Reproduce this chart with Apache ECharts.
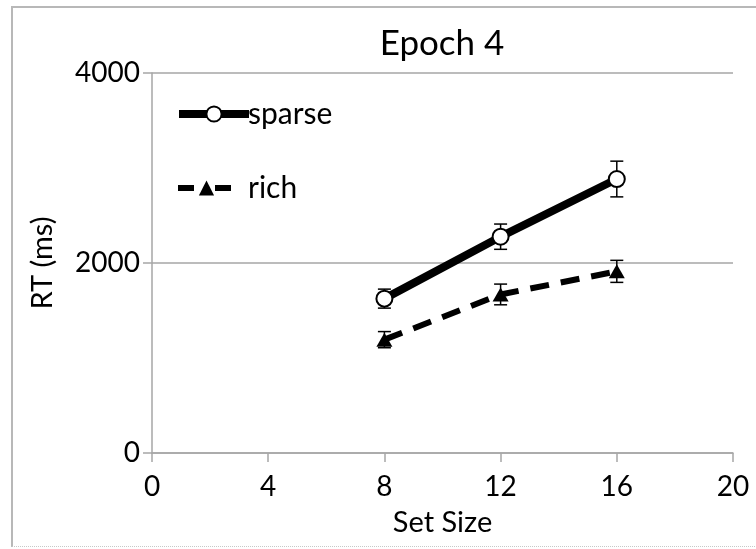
<!DOCTYPE html>
<html>
<head>
<meta charset="utf-8">
<script src="https://cdn.jsdelivr.net/npm/echarts@6/dist/echarts.min.js"></script>
<style>
  html, body { margin: 0; padding: 0; background: #ffffff; }
  #frame { position: absolute; left: 11px; top: 6px; width: 760px; height: 541px;
           border-left: 2px solid #b8b8b8; border-top: 2px solid #b8b8b8;
           border-bottom: 1px dotted #c8c8c8; box-sizing: border-box; }
  #chart { position: absolute; left: 0; top: 0; width: 756px; height: 549px; }
</style>
</head>
<body>
<div id="frame"></div>
<div id="chart"></div>
<script>
// Set sizes tested and mean response times (ms) with error-bar half widths
const setSizes = [8, 12, 16];
const sparseRT = [1625, 2277, 2884];
const sparseErr = [100, 133, 188];
const richRT = [1193, 1669, 1912];
const richErr = [85, 109, 116];

const xTicks = [0, 4, 8, 12, 16, 20];
const yTicks = [0, 2000, 4000];

const FONT = 'Lato';
const chart = echarts.init(document.getElementById('chart'), null, { renderer: 'canvas' });

function pairs(xs, ys) { return xs.map((x, i) => [x, ys[i]]); }
function errRows(xs, ys, es) { return xs.map((x, i) => [x, ys[i] - es[i], ys[i] + es[i]]); }

// Vertical error bar with short caps, positioned through the axis scales
function errorBar(params, api) {
  const x = api.value(0);
  const lo = api.coord([x, api.value(1)]);
  const hi = api.coord([x, api.value(2)]);
  const half = 6.5;
  const style = { stroke: '#000', lineWidth: 1.5 };
  return {
    type: 'group',
    children: [
      { type: 'line', shape: { x1: lo[0], y1: lo[1], x2: hi[0], y2: hi[1] }, style },
      { type: 'line', shape: { x1: lo[0] - half, y1: lo[1], x2: lo[0] + half, y2: lo[1] }, style },
      { type: 'line', shape: { x1: hi[0] - half, y1: hi[1], x2: hi[0] + half, y2: hi[1] }, style }
    ]
  };
}

const legendText = { fontFamily: FONT, fontSize: 30, color: '#000' };

chart.setOption({
  animation: false,
  backgroundColor: 'transparent',
  title: {
    text: 'Epoch 4',
    left: 437, top: 21, textAlign: 'center',
    textStyle: { fontFamily: FONT, fontSize: 35, fontWeight: 'normal', color: '#000' }
  },
  legend: [
    {
      left: 170, top: 94,
      itemWidth: 70, itemHeight: 19, itemGap: 0,
      data: [{ name: 'sparse', lineStyle: { width: 8 } }],
      textStyle: Object.assign({ padding: [0, 0, 0, -6] }, legendText)
    },
    {
      left: 170, top: 168,
      itemWidth: 57, itemHeight: 19, itemGap: 0,
      data: [{ name: 'rich', lineStyle: { width: 6, type: [16, 21] } }],
      textStyle: Object.assign({ padding: [0, 0, 0, 8] }, legendText)
    }
  ],
  grid: { left: 152, right: 23, top: 73, bottom: 96, containLabel: false },
  xAxis: {
    type: 'value', min: 0, max: 20, interval: 4,
    name: 'Set Size', nameLocation: 'middle', nameGap: 55, nameMoveOverlap: false,
    nameTextStyle: { fontFamily: FONT, fontSize: 29, color: '#000' },
    axisLine: { show: true, lineStyle: { color: '#a6a6a6', width: 1.5 } },
    axisTick: { show: true, length: 9, lineStyle: { color: '#a6a6a6', width: 1.5 } },
    axisLabel: { fontFamily: FONT, fontSize: 28, color: '#000', margin: 20,
                 formatter: v => (xTicks.includes(v) ? String(v) : '') },
    splitLine: { show: false }
  },
  yAxis: {
    type: 'value', min: 0, max: 4000, interval: 2000,
    name: 'RT (ms)', nameLocation: 'middle', nameGap: 95, nameMoveOverlap: false,
    nameTextStyle: { fontFamily: FONT, fontSize: 29, color: '#000' },
    axisLine: { show: true, lineStyle: { color: '#a6a6a6', width: 1.5 } },
    axisTick: { show: true, length: 9, lineStyle: { color: '#a6a6a6', width: 1.5 } },
    axisLabel: { fontFamily: FONT, fontSize: 28, color: '#000', margin: 12,
                 formatter: v => (yTicks.includes(v) ? String(v) : '') },
    splitLine: { show: true, lineStyle: { color: '#a6a6a6', width: 1.5 } }
  },
  series: [
    {
      name: 'sparse-err', type: 'custom', z: 1,
      renderItem: errorBar, data: errRows(setSizes, sparseRT, sparseErr),
      encode: { x: 0, y: [1, 2] }, silent: true
    },
    {
      name: 'rich-err', type: 'custom', z: 1,
      renderItem: errorBar, data: errRows(setSizes, richRT, richErr),
      encode: { x: 0, y: [1, 2] }, silent: true
    },
    {
      name: 'sparse', type: 'line', z: 3,
      data: pairs(setSizes, sparseRT),
      symbol: 'circle', symbolSize: 16, showAllSymbol: true,
      lineStyle: { color: '#000', width: 8 },
      itemStyle: { color: '#fff', borderColor: '#000', borderWidth: 2 }
    },
    {
      name: 'rich', type: 'line', z: 3,
      data: pairs(setSizes, richRT),
      symbol: 'triangle', symbolSize: [16, 14],
      lineStyle: { color: '#000', width: 6, type: [19, 12] },
      itemStyle: { color: '#000', borderColor: '#000', borderWidth: 0 }
    }
  ]
});
</script>
</body>
</html>
